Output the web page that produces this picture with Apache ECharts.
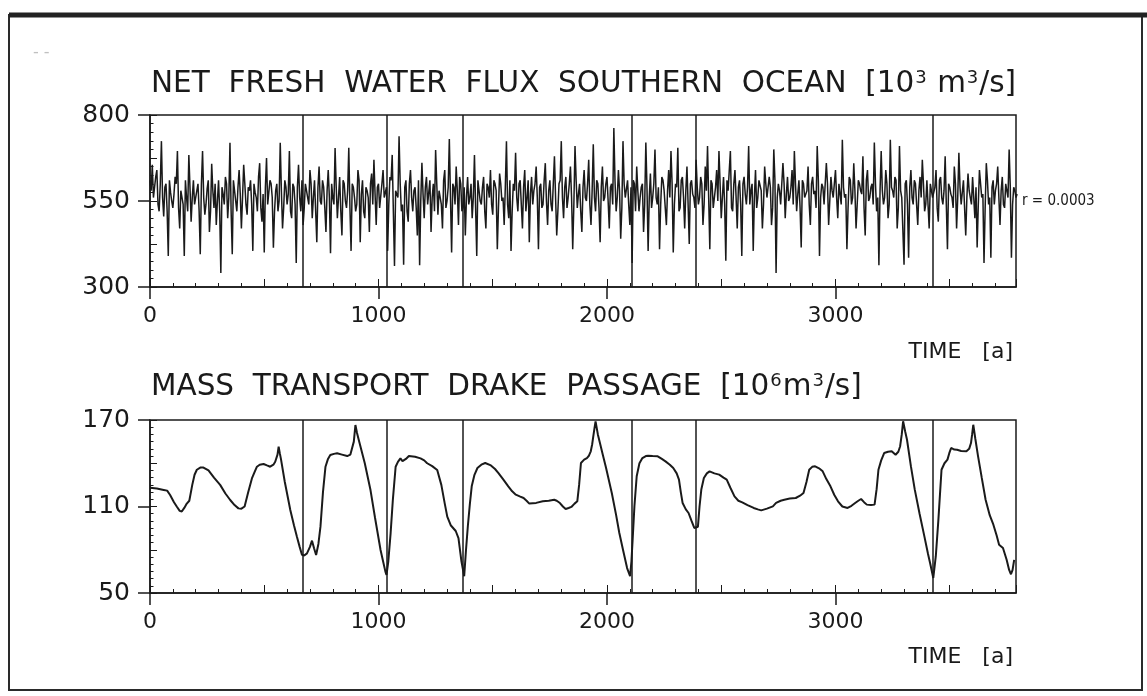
<!DOCTYPE html>
<html>
<head>
<meta charset="utf-8">
<script src="https://cdn.jsdelivr.net/npm/echarts@6/dist/echarts.min.js"></script>
<style>
html,body{margin:0;padding:0;background:#fff;}
#chart{width:1147px;height:696px;}
</style>
</head>
<body>
<div id="chart"></div>
<script>
// ---------------- DATA ----------------
const xTicks = [0, 1000, 2000, 3000];
const xMax = 3790;
const fluxTicks = [300, 550, 800];
const drakeTicks = [50, 110, 170];
const cycleBreaks = [670, 1035, 1370, 2110, 2390, 3425];
const correlationLabel = 'r = 0.0003';

// net fresh water flux: values at years 0,10,20,... (fluxValues)
// and at years 5,15,25,... (fluxMidValues)
const fluxStep = 10;
const fluxValues = [
610,655,590,640,520,724,505,600,390,575,530,620,695,470,580,390,560,684,490,610,
540,600,395,695,510,585,460,658,530,480,610,341,570,620,500,719,395,580,520,640,
470,655,540,590,610,405,575,520,660,490,400,675,545,600,414,580,520,719,470,610,
540,695,500,590,370,655,520,480,600,560,640,500,610,430,650,540,590,460,640,398,
560,704,500,620,450,600,530,705,405,590,520,640,430,610,500,580,460,630,670,480,
600,530,640,560,405,620,684,361,580,738,520,365,610,490,640,520,590,450,363,661,
500,620,540,460,600,698,510,580,470,640,550,730,400,590,650,480,600,530,450,620,
560,500,684,390,610,540,620,470,590,640,510,600,410,630,550,480,724,500,405,600,
690,520,610,470,640,560,430,620,580,650,410,600,540,660,480,610,520,680,450,600,
724,500,620,560,650,410,710,530,600,460,640,550,670,480,715,520,600,430,650,560,
620,470,600,762,520,640,440,724,560,610,480,370,600,650,520,590,460,720,405,630,
560,700,540,410,620,580,480,640,695,400,600,705,530,620,470,650,425,610,560,670,
540,620,480,650,710,410,600,560,640,695,500,620,376,580,695,520,640,470,610,390,
620,540,710,580,405,640,560,610,470,650,560,620,480,700,341,600,540,660,500,620,
560,640,695,520,610,415,600,560,650,480,620,580,710,390,600,540,660,480,620,560,
640,500,600,728,560,410,620,540,660,470,610,580,680,450,640,560,600,720,520,363,
695,540,640,500,728,580,620,470,710,560,365,610,385,640,540,600,480,620,670,520,
610,470,600,560,640,490,620,540,680,410,590,560,650,470,690,540,610,450,630,560,
620,500,415,640,560,370,660,540,385,610,580,650,480,620,530,600,700,385,590,560
];
const fluxMidValues = [
580,560,620,540,600,560,590,520,610,550,570,600,530,580,540,610,520,590,560,540,
580,520,600,560,540,610,520,580,600,550,520,590,540,600,560,520,610,550,590,570,
560,600,510,580,540,600,560,620,530,570,590,540,610,560,520,600,550,580,530,590,
570,520,600,540,590,560,610,530,580,540,600,560,520,590,550,610,530,580,560,600,
540,590,560,520,610,550,580,530,600,560,540,610,570,520,590,560,600,540,570,590,
530,600,560,590,540,610,520,580,560,600,540,590,520,600,560,580,530,610,550,570,
590,540,610,560,520,600,580,540,610,530,590,560,600,540,580,620,520,590,560,540,
600,560,530,610,550,590,520,600,560,540,610,580,530,600,560,590,540,610,520,580,
560,600,540,590,520,610,570,540,600,560,590,530,610,550,580,540,600,560,520,610,
560,590,530,600,560,540,610,570,520,590,560,600,540,580,560,610,530,590,550,600,
550,590,540,610,560,580,530,600,560,540,590,610,520,580,560,600,540,590,560,530,
600,560,590,540,610,530,580,560,600,540,590,520,610,560,580,540,600,570,530,590,
560,600,540,580,560,610,530,590,550,600,560,540,610,580,530,600,560,590,540,600,
570,590,540,600,560,530,610,580,540,600,560,590,530,610,560,580,540,600,570,550,
590,540,600,570,530,610,560,580,540,600,570,530,610,560,590,540,600,550,580,560,
560,600,540,590,570,530,610,560,580,540,600,570,530,610,550,590,540,600,560,580,
580,560,600,540,590,560,610,530,580,560,600,540,590,560,610,540,580,560,600,540,
540,600,560,590,530,610,560,580,540,600,570,530,600,560,590,540,610,560,580,540,
560,590,540,600,570,530,610,560,590,540,600,560,580,540,600,560,590,540,580,570
];

// mass transport through Drake Passage
const drakeYears = [
0,30,60,75,88,105,117,130,139,150,161,172,185,195,205,220,234,256,280,307,
330,351,370,387,400,414,430,446,458,468,480,497,512,526,540,548,558,563,568,573,
590,614,630,643,655,665,675,687,700,709,718,727,737,746,757,768,779,789,805,819,
840,863,877,885,892,899,906,914,940,965,985,1009,1020,1030,1035,1043,1053,1063,1075,1085,
1096,1105,1111,1120,1133,1160,1184,1200,1213,1235,1257,1275,1290,1301,1316,1338,1350,1363,1375,1383,
1391,1400,1408,1420,1433,1450,1467,1492,1510,1525,1545,1568,1585,1601,1618,1635,1648,1660,1690,1719,
1745,1769,1780,1794,1807,1819,1832,1844,1858,1870,1878,1886,1900,1912,1920,1929,1935,1940,1945,1950,
1960,1971,1983,1996,2021,2040,2054,2070,2088,2101,2107,2113,2120,2130,2142,2155,2170,2180,2200,2222,
2240,2256,2275,2290,2305,2315,2323,2331,2345,2357,2370,2382,2390,2398,2405,2413,2424,2437,2449,2470,
2491,2510,2524,2540,2558,2575,2592,2615,2642,2660,2675,2700,2726,2740,2760,2776,2800,2826,2845,2860,
2873,2885,2898,2911,2928,2944,2960,2978,2995,3011,3030,3053,3070,3086,3100,3112,3125,3137,3155,3171,
3180,3188,3200,3213,3230,3246,3263,3275,3283,3290,3296,3305,3313,3330,3347,3368,3389,3405,3414,3428,
3439,3450,3464,3477,3490,3498,3506,3520,3532,3550,3573,3585,3593,3598,3603,3612,3624,3640,3657,3675,
3691,3705,3716,3733,3749,3760,3768,3775,3782
];
const drakeValues = [
123,122.5,121.5,121,118,113,110,107,106.5,109,112,114,125,132,135.5,137,137,135,130,125,
119,114.5,111,108.7,108.5,110,120,129.5,134,137.6,139,139.5,138.5,137.6,139,141,146,151.5,147,143,
127,107.6,97,89,82,76.5,76,77.5,82,86.3,81,76.4,84,96,120,137.6,143,145.7,146.5,146.9,
146,145,146,147,155,166.5,161,156,140,121.4,102,79.8,72,65,62.5,72,91.4,115,137.6,141,
143.4,141.5,141,143,145,144.5,143.4,142,140,138,135.3,125,112,103,97,93,88,72,61.6,80,
96.3,112,124,132,136.7,139,140.2,138.5,136,133.2,129,124,120.5,118.2,117,115.9,114,112,112.5,113.6,
114,114.7,114,112.4,110,108.3,109,109.7,112,113.6,125,140.2,142.5,143.6,145,148.3,153,158.7,164,169,
160,152.9,145,136.7,119.4,104,91.6,80,67.3,61.6,72,89.3,110,131,140,143.6,145,145.2,145,144.8,
143,141.3,139,136.7,133,128.6,120,112.4,108,105.5,100,95.1,94,96,110,122,129.8,133,134.4,133,
132.1,130,128.6,123,117,114,112.9,111,109,108,107.3,108.5,110.1,112.5,114,114.7,115.5,115.9,117.5,119.4,
127,135.5,137.5,137.9,136.5,134.4,129,124,118,113.6,110,109,110.5,112.4,114,115.2,113,111.3,111,111.3,
122,135.5,142,147.1,148,148.3,145.9,148,151.8,160,169.1,162,156.3,138,121.7,105,89.3,77,70.8,60.4,
75.5,100,135.5,140,142.5,147,150.6,149.5,149.4,148.5,148.3,150,154,160,166.7,157,144.8,130,114.7,104,
97.4,90,83.5,81.2,73.1,66,63,66,73
];

// ---------------- CHART ----------------
const ink = '#1a1a1a';
const numFont = "'DejaVu Sans', sans-serif";
const chart = echarts.init(document.getElementById('chart'), null, {renderer: 'canvas'});

const grids = [
  {left: 150, right: 131, top: 115, height: 172},
  {left: 150, right: 131, top: 420, height: 173}
];

function xAxes(gi) {
  const base = {gridIndex: gi, type: 'value', position: 'bottom', min: 0, max: xMax, splitLine: {show: false}};
  return [
    Object.assign({}, base, {
      axisLine: {show: true, lineStyle: {color: ink, width: 1.5}},
      axisTick: {show: true, customValues: xTicks, length: 12, lineStyle: {color: ink, width: 1.5}},
      axisLabel: {show: true, customValues: xTicks, margin: 18, color: ink, fontSize: 22, fontFamily: numFont,
        formatter: v => String(v)}
    }),
    Object.assign({}, base, {
      interval: 500,
      axisLine: {show: false},
      axisTick: {show: true, inside: true, length: 8, lineStyle: {color: ink, width: 1}},
      minorTick: {show: true, splitNumber: 5, length: 4, lineStyle: {color: ink, width: 1}},
      axisLabel: {show: false}
    })
  ];
}
function yAxes(gi, mn, mx, major, minor, mid) {
  const base = {gridIndex: gi, type: 'value', position: 'left', min: mn, max: mx, splitLine: {show: false}};
  return [
    Object.assign({}, base, {
      interval: major,
      axisLine: {show: true, lineStyle: {color: ink, width: 1.5}},
      axisTick: {show: true, length: 12, lineStyle: {color: ink, width: 1.5}},
      axisLabel: {show: true, margin: 20, color: ink, fontSize: 25, fontFamily: numFont}
    }),
    Object.assign({}, base, {
      interval: mid,
      axisLine: {show: false},
      axisTick: {show: true, inside: true, length: 7, lineStyle: {color: ink, width: 1}},
      minorTick: {show: true, splitNumber: Math.round(mid / minor), length: 3.5, lineStyle: {color: ink, width: 1}},
      axisLabel: {show: false}
    })
  ];
}

function breakLines() {
  return {
    silent: true,
    symbol: ['none', 'none'],
    label: {show: false},
    lineStyle: {color: ink, type: 'solid', width: 1.5},
    emphasis: {disabled: true},
    data: cycleBreaks.map(v => ({xAxis: v}))
  };
}

const fluxSeries = [];
fluxValues.forEach((v, i) => {
  fluxSeries.push([i * fluxStep, v]);
  if (i < fluxMidValues.length) fluxSeries.push([i * fluxStep + fluxStep / 2, fluxMidValues[i]]);
});

const titleFont = "'DejaVu Sans', sans-serif";
const supStyle = {fontSize: 18, fontFamily: titleFont, color: ink, verticalAlign: 'top', padding: [0, 1, 0, 1]};

const option = {
  backgroundColor: '#ffffff',
  animation: false,
  title: [
    {
      text: 'NET  FRESH  WATER  FLUX  SOUTHERN  OCEAN  [10{s|3} m{s|3}/s]',
      left: 146, top: 64,
      textStyle: {color: ink, fontSize: 29.5, fontWeight: 'normal', fontFamily: titleFont,
        rich: {s: supStyle}}
    },
    {
      text: 'MASS  TRANSPORT  DRAKE  PASSAGE  [10{s|6}m{s|3}/s]',
      left: 146, top: 367,
      textStyle: {color: ink, fontSize: 29.5, fontWeight: 'normal', fontFamily: titleFont,
        rich: {s: supStyle}}
    }
  ],
  grid: grids.map(g => Object.assign({show: true, borderColor: ink, borderWidth: 1.5, backgroundColor: 'transparent'}, g)),
  xAxis: xAxes(0).concat(xAxes(1)),
  yAxis: yAxes(0, 300, 800, 250, 25, 125).concat(yAxes(1, 50, 170, 60, 5, 30)),
  series: [
    {
      type: 'line', xAxisIndex: 0, yAxisIndex: 0,
      data: fluxSeries,
      showSymbol: false, sampling: null,
      lineStyle: {color: ink, width: 1.5},
      markLine: breakLines()
    },
    {
      type: 'line', xAxisIndex: 2, yAxisIndex: 2,
      data: drakeYears.map((x, i) => [x, drakeValues[i]]),
      showSymbol: false, smooth: false,
      lineStyle: {color: ink, width: 2},
      markLine: breakLines()
    }
  ],
  graphic: [
    {type: 'rect', shape: {x: 9, y: 15, width: 1133, height: 675},
     style: {fill: 'none', stroke: '#2a2a2a', lineWidth: 2}},
    {type: 'line', shape: {x1: 9, y1: 15, x2: 1147, y2: 15},
     style: {stroke: '#222', lineWidth: 5}},
    {type: 'text', x: 33, y: 45, style: {text: '- -', fill: '#c0c0c0', font: "16px 'DejaVu Sans'"}},
    {type: 'text', x: 1013, y: 352, style: {text: 'TIME   [a]', fill: ink, font: "22px 'DejaVu Sans'", textAlign: 'right', textVerticalAlign: 'middle'}},
    {type: 'text', x: 1013, y: 657, style: {text: 'TIME   [a]', fill: ink, font: "22px 'DejaVu Sans'", textAlign: 'right', textVerticalAlign: 'middle'}},
    {type: 'text', x: 1022, y: 201, style: {text: correlationLabel, fill: ink, font: "15px 'DejaVu Sans Condensed', 'Liberation Sans Narrow', 'DejaVu Sans'", textAlign: 'left', textVerticalAlign: 'middle'}}
  ]
};
chart.setOption(option);
</script>
</body>
</html>
